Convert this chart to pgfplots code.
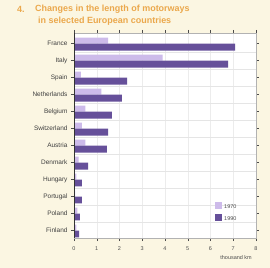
\documentclass[border=0pt]{standalone}
\usepackage{fontspec}
\setmainfont{Liberation Sans}
\usepackage{pgfplots}
\pgfplotsset{compat=1.18}
\definecolor{cream}{HTML}{FBF6E2}
\definecolor{lightp}{HTML}{CDBBEA}
\definecolor{darkp}{HTML}{66509A}
\definecolor{ttl}{HTML}{EBA84C}
\begin{document}
\begin{tikzpicture}[x=1bp,y=1bp]
\fill[cream] (0,0) rectangle (270,268);
\useasboundingbox (0,0) rectangle (270,268);
\node[anchor=west, text=ttl, font=\fontsize{9}{10}\selectfont\bfseries, inner sep=0] at (17,259) {4.};
\node[anchor=west, text=ttl, font=\fontsize{9}{10}\selectfont\bfseries, inner sep=0] at (35,259) {Changes in the length of motorways};
\node[anchor=west, text=ttl, font=\fontsize{9}{10}\selectfont\bfseries, inner sep=0] at (38,247) {in selected European countries};
\begin{axis}[
  at={(74bp,30bp)}, anchor=south west, scale only axis,
  width=182bp, height=205bp,
  xmin=0, xmax=8, ymin=-0.44, ymax=11.62,
  xbar, bar width=6pt,
  axis background/.style={fill=white},
  axis line style={gray!60},
  xtick={0,1,2,3,4,5,6,7,8},
  ytick={0,1,2,3,4,5,6,7,8,9,10,11},
  yticklabels={Finland,Poland,Portugal,Hungary,Denmark,Austria,Switzerland,Belgium,Netherlands,Spain,Italy,France},
  minor ytick={0.5,1.5,2.5,3.5,4.5,5.5,6.5,7.5,8.5,9.5,10.5},
  yminorgrids=true, minor grid style={gray!20, line width=0.3pt},
  xmajorgrids=true, major grid style={gray!15, line width=0.3pt},
  minor tick length=0pt,
  tick align=outside, major tick length=3bp,
  xtick style={black!70},
  ytick style={black!70},
  xticklabel style={font=\fontsize{5.5}{6}\selectfont, text=black!70, yshift=-2.5bp},
  yticklabel style={font=\fontsize{6.5}{7}\selectfont, text=black!75},
  /pgf/number format/assume math mode=true,
  legend style={at={(0.775,0.068)}, anchor=south west, draw=none, fill=none,
    font=\fontsize{5.5}{6}\selectfont, inner sep=0pt, row sep=2pt, text=black!70},
  legend cell align=left,
  legend image code/.code={\fill[#1,draw=none] (0bp,-1.5bp) rectangle (7bp,5.5bp);},
]
\addplot[fill=lightp, draw=none, bar shift=3pt] coordinates {
(1.5,11) (3.9,10) (0.3,9) (1.2,8) (0.5,7) (0.35,6) (0.5,5) (0.2,4) (0.1,3) (0.05,2) (0.15,1) (0.1,0)};
\addplot[fill=darkp, draw=none, bar shift=-3.5pt, bar width=7pt] coordinates {
(7.08,11) (6.77,10) (2.33,9) (2.1,8) (1.67,7) (1.5,6) (1.45,5) (0.62,4) (0.35,3) (0.35,2) (0.26,1) (0.22,0)};
\legend{1970,1990}
\draw[black!80, line width=0.8pt] (rel axis cs:0,0) -- (rel axis cs:0,1);
\draw[black!80, line width=0.6pt] (rel axis cs:0,0) -- (rel axis cs:1,0);
\end{axis}
\node[anchor=east, font=\fontsize{5.5}{6}\selectfont, text=black!70, inner sep=0] at (252,10) {thousand km};
\end{tikzpicture}
\end{document}
